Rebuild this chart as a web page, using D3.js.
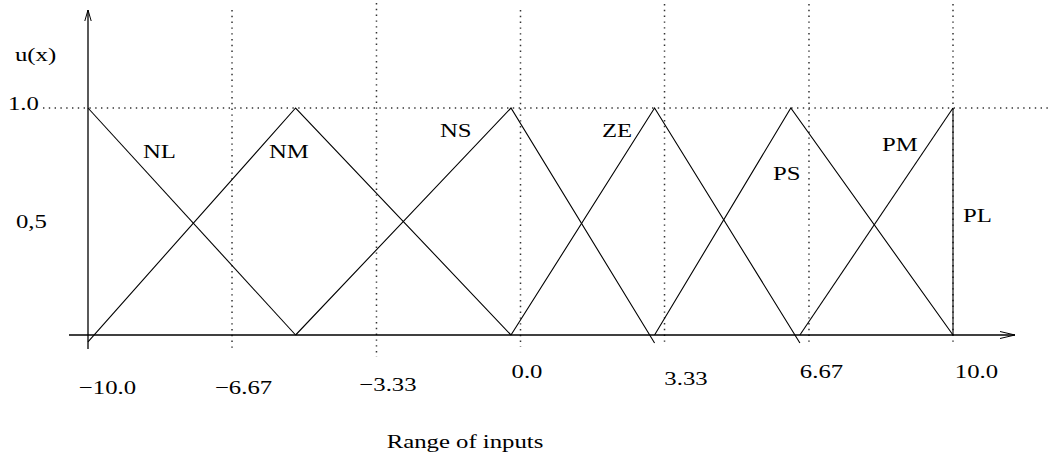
<!DOCTYPE html>
<html>
<head>
<meta charset="utf-8">
<script src="https://cdn.jsdelivr.net/npm/d3@7"></script>
<style>
  html, body { margin: 0; padding: 0; background: #fff; }
  svg { display: block; }
  text { font-family: "Liberation Serif", "Times New Roman", serif; fill: #000; }
</style>
</head>
<body>
<svg id="chart" width="1049" height="460"></svg>
<script>
// ---------------- data ----------------
const categories = ["NL", "NM", "NS", "ZE", "PS", "PM", "PL"];
const seriesX = [
  [-10, -5.2],
  [-10, -5.2, -0.22],
  [-5.2, -0.22, 3.1],
  [-0.22, 3.1, 6.46],
  [3.1, 6.25, 10],
  [6.46, 10],
  [10, 10]
];
const seriesU = [
  [1, 0],
  [-0.03, 1, 0],
  [0, 1, -0.035],
  [0, 1, -0.035],
  [0, 1, 0],
  [0, 1],
  [0, 1]
];
const xTickValues = [-10, -6.67, -3.33, 0, 3.33, 6.67, 10];
const xTickLabels = ["\u221210.0", "\u22126.67", "\u22123.33", "0.0", "3.33", "6.67", "10.0"];
const gridX = [-6.67, -3.33, 0, 3.33, 6.67, 10];
const yTickValues = [1.0, 0.5];
const yTickLabels = ["1.0", "0,5"];
const yTitle = "u(x)";
const xTitle = "Range of inputs";

// ---------------- layout ----------------
const X0 = 88, X1 = 953, Y0 = 335, Y1 = 108;
const FS = 19.8, SX = 1.25;
const x = d3.scaleLinear().domain([-10, 10]).range([X0, X1]);
const y = d3.scaleLinear().domain([0, 1]).range([Y0, Y1]);
const svg = d3.select("#chart");

const xLabelDx = [19, 11, 11, 6, 21, 12, 23];
const xLabelY = [394, 394, 391, 378, 385, 378, 378];
const gridTop = [10, 3, 10, 4, 4, 4];
const gridBottom = [352, 357, 347, 345, 345, 345];
const seriesLabelPos = [[143,158],[269,158],[440,137],[602,137],[773,180],[882,151],[963,222]];

function stretchedText(parent, str, px, py, anchor) {
  return parent.append("text")
    .attr("transform", `translate(${px},${py}) scale(${SX},1)`)
    .attr("text-anchor", anchor || "start")
    .attr("font-size", FS)
    .text(str);
}

// dotted grid
const dot = "1.4,4.4";
svg.append("g").selectAll("line").data(gridX).join("line")
  .attr("x1", d => x(d)).attr("x2", d => x(d))
  .attr("y1", (d, i) => gridTop[i]).attr("y2", (d, i) => gridBottom[i])
  .attr("stroke", "#333").attr("stroke-width", 1.5)
  .attr("stroke-dasharray", dot);
svg.append("line")
  .attr("x1", 43).attr("x2", 1049)
  .attr("y1", y(1)).attr("y2", y(1))
  .attr("stroke", "#333").attr("stroke-width", 1.5)
  .attr("stroke-dasharray", dot);

// axes lines with open arrows
const axisG = svg.append("g").attr("stroke", "#000").attr("fill", "none").attr("stroke-width", 1.3);
axisG.append("line").attr("x1", 69).attr("x2", 1015).attr("y1", Y0).attr("y2", Y0);
axisG.append("path").attr("d", `M1000,331.5 L1015,335 L1000,338.5`).attr("stroke-width", 1);
axisG.append("line").attr("x1", X0).attr("x2", X0).attr("y1", 349).attr("y2", 10);
axisG.append("path").attr("d", `M84.8,21 L88,10 L91.2,21`).attr("stroke-width", 1);

// x tick labels via d3 axis
const xAxis = d3.axisBottom(x).tickValues(xTickValues).tickSize(0)
  .tickFormat((d, i) => xTickLabels[i]);
const gx = svg.append("g").call(xAxis);
gx.select(".domain").remove();
gx.selectAll(".tick text")
  .attr("font-family", "Liberation Serif")
  .attr("font-size", FS)
  .attr("fill", "#000")
  .attr("dy", null)
  .attr("y", 0)
  .attr("text-anchor", "middle")
  .attr("transform", (d, i) => `translate(${xLabelDx[i]},${xLabelY[i]}) scale(${SX},1)`);

// y tick labels via d3 axis
const yAxis = d3.axisLeft(y).tickValues(yTickValues).tickSize(0)
  .tickFormat((d, i) => yTickLabels[i]);
const gy = svg.append("g").call(yAxis);
gy.select(".domain").remove();
const yLabelPos = [[8, 110], [16, 228]];
gy.selectAll(".tick").attr("transform", null);
gy.selectAll(".tick text")
  .attr("font-family", "Liberation Serif")
  .attr("font-size", FS)
  .attr("fill", "#000")
  .attr("dy", null).attr("x", 0).attr("y", 0)
  .attr("text-anchor", "start")
  .attr("transform", (d, i) => `translate(${yLabelPos[i][0]},${yLabelPos[i][1]}) scale(${SX},1)`);

// membership functions
const line = d3.line().x(d => x(d[0])).y(d => y(d[1]));
svg.append("g").selectAll("path").data(categories).join("path")
  .attr("d", (c, i) => line(seriesX[i].map((v, j) => [v, seriesU[i][j]])))
  .attr("fill", "none").attr("stroke", "#000").attr("stroke-width", 1.1);

// series labels
categories.forEach((c, i) => stretchedText(svg, c, seriesLabelPos[i][0], seriesLabelPos[i][1]));

// titles
stretchedText(svg, yTitle, 15, 61);
stretchedText(svg, xTitle, 465, 448, "middle");
</script>
</body>
</html>
